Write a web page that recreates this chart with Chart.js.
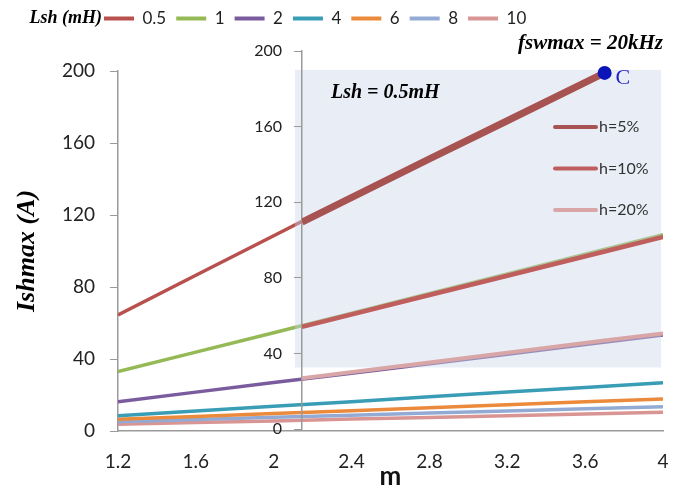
<!DOCTYPE html>
<html>
<head>
<meta charset="utf-8">
<script src="https://cdn.jsdelivr.net/npm/chart.js@4.4.1/dist/chart.umd.min.js"></script>
<style>
  html, body { margin: 0; padding: 0; background: #fff; }
  #wrap { position: relative; width: 689px; height: 490px; }
  #wrap canvas { position: absolute; left: 0; top: 0; }
</style>
</head>
<body>
<div id="wrap">
  <canvas id="mainChart" width="689" height="490"></canvas>
  <canvas id="insetChart" width="689" height="490"></canvas>
</div>
<script>
// main chart: Ishmax vs m for each Lsh (mH)
const mValues = [1.2, 1.6, 2, 2.4, 2.8, 3.2, 3.6, 4];
const xTicks = [1.2, 1.6, 2, 2.4, 2.8, 3.2, 3.6, 4];
const lshLabels = ["0.5", "1", "2", "4", "6", "8", "10"];
const lsh05 = [64.5, 86.5, 108.5, 130.5, null, null, null, null];
const lsh1 = [33, 43.8, 54.6, 65.5, 76.4, 87.3, 98.2, 109];
const lsh2 = [16.3, 21.6, 26.9, 32.1, 37.4, 42.7, 48, 53.3];
const lsh4 = [8.5, 11.1, 13.7, 16.3, 19, 21.6, 24.2, 26.8];
const lsh6 = [6.5, 8.1, 9.7, 11.3, 12.9, 14.6, 16.2, 17.8];
const lsh8 = [5.2, 6.4, 7.6, 8.8, 10, 11.1, 12.3, 13.5];
const lsh10 = [3.7, 4.7, 5.6, 6.6, 7.5, 8.5, 9.4, 10.4];
const lshColors = ["#B8504D", "#94B955", "#7A5C9E", "#3A9DB6", "#EC8A3C", "#93ABD4", "#D99594"];

// inset: Lsh = 0.5mH, several h
const insetM = [2.145, 2.8, 3.2, 3.7, 4];
const insetLabels = ["h=5%", "h=10%", "h=20%"];
const h5 = [109.5, 142.9, 163.1, 188.4, null];
const h10 = [54, 70.9, 81.1, 93.9, 101.6];
const h20 = [26.8, 35.2, 40.4, 46.8, 50.6];
const hColors = ["#A65352", "#BF5E5C", "#D8A6A7"];
const hWidths = [7, 4.5, 4];
const pointC = 3; // index of point C in insetM

const sans = "Lato, 'Open Sans', sans-serif";
const serif = "'Liberation Serif', 'DejaVu Serif', serif";

const series = [lsh05, lsh1, lsh2, lsh4, lsh6, lsh8, lsh10];

const mainExtras = {
  id: "mainExtras",
  afterLayout(chart) {
    // move the legend so that "Lsh (mH)" fits before it
    chart.legend.left = 94;
  },
  afterDraw(chart) {
    const hb = chart.legend.legendHitBoxes[0];
    const ctx = chart.ctx;
    ctx.save();
    ctx.font = "italic bold 18px " + serif;
    ctx.fillStyle = "#000";
    ctx.textAlign = "right";
    ctx.textBaseline = "middle";
    ctx.fillText("Lsh (mH)", hb.left - 2, hb.top + hb.height / 2);
    ctx.restore();
  }
};

new Chart(document.getElementById("mainChart"), {
  type: "line",
  data: {
    datasets: series.map((arr, i) => ({
      label: lshLabels[i],
      data: mValues.map((m, j) => ({ x: m, y: arr[j] })),
      borderColor: lshColors[i],
      backgroundColor: lshColors[i],
      borderWidth: 3.5,
      pointRadius: 0,
      tension: 0
    }))
  },
  options: {
    responsive: false,
    animation: false,
    events: [],
    layout: { padding: { left: 0, right: 26, top: 0, bottom: 0 } },
    plugins: {
      legend: {
        position: "top",
        align: "start",
        labels: {
          boxWidth: 30,
          boxHeight: 4,
          padding: 10,
          color: "#1F1F1F",
          font: { family: sans, size: 17 },
          generateLabels(chart) {
            return Chart.defaults.plugins.legend.labels.generateLabels(chart)
              .map(l => Object.assign(l, { lineWidth: 0 }));
          }
        }
      },
      title: {
        display: true,
        text: "fswmax = 20kHz",
        align: "end",
        weight: 500,
        color: "#000",
        font: { family: serif, size: 21, style: "italic", weight: "bold", lineHeight: 1 },
        padding: { top: -4, bottom: 17 }
      },
      tooltip: { enabled: false }
    },
    scales: {
      x: {
        type: "linear",
        min: 1.2,
        max: 4,
        afterBuildTicks(scale) {
          scale.ticks = xTicks.map(v => ({ value: v }));
        },
        afterFit(scale) {
          scale.height = 59;
        },
        ticks: {
          callback: v => String(v),
          color: "#222",
          font: { family: sans, size: 19 },
          padding: 19,
          maxRotation: 0,
          autoSkip: false
        },
        grid: { display: false, drawTicks: false },
        border: { color: "#9A9A9A", width: 1.5 },
        title: {
          display: true,
          text: "m",
          color: "#111",
          font: { family: sans, size: 26, weight: "bold", lineHeight: 1 },
          padding: { top: 0, bottom: 0 }
        }
      },
      y: {
        min: 0,
        max: 200,
        afterFit(scale) {
          scale.width = 118;
        },
        ticks: {
          stepSize: 40,
          color: "#222",
          font: { family: sans, size: 19 },
          padding: 15
        },
        grid: { drawOnChartArea: false, drawTicks: true, tickLength: 8, color: "#9A9A9A" },
        border: { color: "#9A9A9A", width: 1.5 },
        title: {
          display: true,
          text: "Ishmax (A)",
          color: "#000",
          font: { family: serif, size: 26, style: "italic", weight: "bold" },
          padding: { top: 12, bottom: 0 }
        }
      }
    }
  },
  plugins: [mainExtras]
});

const insetExtras = {
  id: "insetExtras",
  beforeDraw(chart) {
    const { ctx, chartArea, scales } = chart;
    ctx.save();
    ctx.fillStyle = "rgba(200, 212, 232, 0.4)";
    const top = scales.y.getPixelForValue(190);
    const bottom = scales.y.getPixelForValue(32.5);
    const right = scales.x.getPixelForValue(3.99);
    ctx.fillRect(chartArea.left - 7, top, right - chartArea.left + 7, bottom - top);
    ctx.restore();
  },
  afterDraw(chart) {
    const { ctx, chartArea } = chart;
    ctx.save();
    // text inside the inset
    ctx.font = "italic bold 20px " + serif;
    ctx.fillStyle = "#000";
    ctx.textBaseline = "middle";
    ctx.fillText("Lsh = 0.5mH", chartArea.left + 29, chartArea.top + 42);

    // inset legend
    ctx.font = "16px " + sans;
    ctx.fillStyle = "#333";
    insetLabels.forEach((lab, i) => {
      const y = chartArea.top + 76 + i * 41.5;
      const x0 = chartArea.right - 108;
      ctx.strokeStyle = hColors[i];
      ctx.lineWidth = 4;
      ctx.lineCap = "round";
      ctx.beginPath();
      ctx.moveTo(x0, y);
      ctx.lineTo(x0 + 41, y);
      ctx.stroke();
      ctx.fillText(lab, x0 + 44, y);
    });

    // label of point C
    const pt = chart.getDatasetMeta(0).data[pointC];
    ctx.font = "22px " + serif;
    ctx.fillStyle = "#2424C8";
    ctx.fillText("C", pt.x + 11, pt.y + 5);
    ctx.restore();
  }
};

new Chart(document.getElementById("insetChart"), {
  type: "line",
  data: {
    datasets: [h5, h10, h20].map((arr, i) => ({
      label: insetLabels[i],
      data: insetM.map((m, j) => ({ x: m, y: arr[j] })),
      borderColor: hColors[i],
      backgroundColor: hColors[i],
      borderWidth: hWidths[i],
      pointRadius: i === 0 ? ctx => (ctx.dataIndex === pointC ? 7 : 0) : 0,
      pointBackgroundColor: "#0A14B8",
      pointBorderWidth: 0,
      tension: 0
    }))
  },
  options: {
    responsive: false,
    animation: false,
    events: [],
    layout: { padding: { left: 252, right: 26, top: 51, bottom: 61 } },
    plugins: {
      legend: { display: false },
      tooltip: { enabled: false }
    },
    scales: {
      x: { type: "linear", min: insetM[0], max: 4, display: false },
      y: {
        min: 0,
        max: 200,
        afterFit(scale) {
          scale.width = 50;
        },
        ticks: {
          stepSize: 40,
          color: "#222",
          font: { family: sans, size: 16 },
          padding: 12
        },
        grid: { drawOnChartArea: false, drawTicks: true, tickLength: 8, color: "#9A9A9A" },
        border: { color: "#9A9A9A", width: 1.5 }
      }
    }
  },
  plugins: [insetExtras]
});
</script>
</body>
</html>
